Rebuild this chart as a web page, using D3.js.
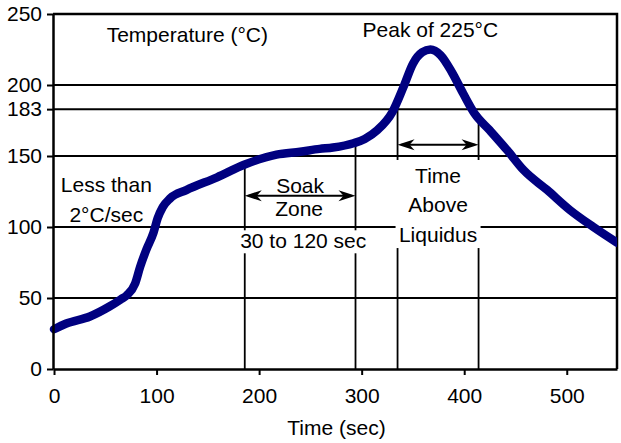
<!DOCTYPE html>
<html>
<head>
<meta charset="utf-8">
<script src="https://cdn.jsdelivr.net/npm/d3@7"></script>
<style>
  body { margin: 0; background: #fff; }
  text { font-family: "Liberation Sans", Arial, sans-serif; font-size: 21px; fill: #000; }
</style>
</head>
<body>
<svg class="graphic" width="621" height="443"></svg>
<script>
// reflow profile
const times = [0, 12, 35, 54, 65, 71, 79, 84, 90, 97, 101, 106, 113, 129, 159, 186, 217, 240, 259, 272, 292, 303, 315, 330, 341, 350, 359, 367, 377, 388, 399, 410, 425, 442, 458, 481, 503, 526, 549];
const temps = [28, 32, 37, 44, 49, 52, 60, 72, 84, 96, 106, 114, 120, 126, 135, 144, 151, 153, 155, 156, 159, 162, 168, 181, 199, 215, 223, 225, 221, 209, 194, 180, 168, 154, 140, 126, 112, 100, 89];

const yTicks = [0, 50, 100, 150, 183, 200, 250];
const gridTemps = [50, 100, 150, 183, 200];
const xTicks = [0, 100, 200, 300, 400, 500];

// annotation lines: [time, topTemp]
const soakLines = [[186, 144], [294, 159]];
const liquidusLines = [[335, 189], [414, 180]];
const soakArrow = [186, 294, 122];
const liquidusArrow = [335, 414, 158];

// text labels: [text, time, temp, boxed]
const labels = [
    ["Temperature (\u00B0C)", 130, 230, false],
    ["Peak of 225\u00B0C", 367, 233.8, false],
    ["Less than", 51, 124.6, false],
    ["2\u00B0C/sec", 51, 103.5, false],
    ["Soak", 240, 124, false],
    ["Zone", 239, 108, false],
    ["30 to 120 sec", 243, 85, true],
];
const liquidusLabel = [["Time", 374.5, 131], ["Above", 374.5, 110.6], ["Liquidus", 374.5, 89.4]];

const $svg = d3.select('.graphic');

const x = d3.scaleLinear().domain([-1, 549]).range([53, 617]);
const y = d3.scaleLinear().domain([0, 250]).range([369, 14]);

$svg.append('clipPath').attr('id', 'plot')
    .append('rect').attr('x', 0).attr('y', 0).attr('width', x(549)).attr('height', 443);

// horizontal grid
$svg.append('g')
    .selectAll('line')
    .data(gridTemps)
    .join('line')
    .attr('x1', x(-1)).attr('x2', x(549))
    .attr('y1', d => y(d)).attr('y2', d => y(d))
    .attr('stroke', '#000').attr('stroke-width', 2);

// frame top + right
$svg.append('path')
    .attr('d', `M${x(-1)},${y(250)}H${x(549)}V${y(0)}`)
    .attr('fill', 'none').attr('stroke', '#000').attr('stroke-width', 2.5);

// vertical annotation lines
$svg.append('g')
    .selectAll('line')
    .data(soakLines.concat(liquidusLines))
    .join('line')
    .attr('x1', d => x(d[0])).attr('x2', d => x(d[0]))
    .attr('y1', d => y(d[1])).attr('y2', y(0))
    .attr('stroke', '#000').attr('stroke-width', 1.8);

// arrows
function arrow(a) {
    const x0 = x(a[0]), x1 = x(a[1]), yy = y(a[2]);
    const g = $svg.append('g');
    g.append('line').attr('x1', x0 + 4).attr('x2', x1 - 4).attr('y1', yy).attr('y2', yy)
        .attr('stroke', '#000').attr('stroke-width', 2);
    g.append('path').attr('d', `M${x0},${yy}L${x0 + 17},${yy - 5.5}L${x0 + 12},${yy}L${x0 + 17},${yy + 5.5}Z`);
    g.append('path').attr('d', `M${x1},${yy}L${x1 - 17},${yy - 5.5}L${x1 - 12},${yy}L${x1 - 17},${yy + 5.5}Z`);
}
arrow(soakArrow);
arrow(liquidusArrow);

// profile curve
const line = d3.line()
    .x((d, i) => x(times[i]))
    .y(d => y(d))
    .curve(d3.curveMonotoneX);

$svg.append('path')
    .datum(temps)
    .attr('d', line)
    .attr('clip-path', 'url(#plot)')
    .attr('fill', 'none')
    .attr('stroke', '#000080')
    .attr('stroke-width', 8.5)
    .attr('stroke-linecap', 'round')
    .attr('stroke-linejoin', 'round');

// axes
$svg.append('g')
    .attr('transform', `translate(${x(-1)},0)`)
    .call(d3.axisLeft(y).tickValues(yTicks).tickSize(6).tickPadding(5).tickSizeOuter(0))
    .call(g => g.selectAll('.tick line').attr('stroke-width', 2))
    .call(g => g.select('.domain').attr('stroke-width', 2.5))
    .call(g => g.selectAll('text').attr('font-size', 21).attr('font-family', null));

$svg.append('g')
    .attr('transform', `translate(0,${y(0)})`)
    .call(d3.axisBottom(x).tickValues(xTicks).tickSize(6).tickSizeOuter(0))
    .call(g => g.selectAll('.tick line').attr('stroke-width', 2))
    .call(g => g.select('.domain').attr('stroke-width', 2.5))
    .call(g => g.selectAll('text').attr('font-size', 21).attr('font-family', null).attr('y', 19));

$svg.append('text')
    .attr('x', 336.5).attr('y', 435)
    .attr('text-anchor', 'middle')
    .text('Time (sec)');

// labels
labels.forEach(function(l) {
    const t = $svg.append('text')
        .attr('x', x(l[1])).attr('y', y(l[2]))
        .attr('text-anchor', 'middle')
        .text(l[0]);
    if (l[3]) {
        const b = t.node().getBBox();
        $svg.insert('rect', () => t.node())
            .attr('x', b.x - 2).attr('y', b.y + 1)
            .attr('width', b.width + 4).attr('height', b.height)
            .attr('fill', '#fff');
    }
});

// Time Above Liquidus block, white box behind
const liq = $svg.append('g');
const liqBox = liq.append('rect').attr('fill', '#fff');
liquidusLabel.forEach(function(l) {
    liq.append('text')
        .attr('x', x(l[1])).attr('y', y(l[2]))
        .attr('text-anchor', 'middle')
        .text(l[0]);
});
const lb = liq.node().getBBox();
liqBox.attr('x', x(liquidusLines[0][0]) - 2).attr('y', lb.y - 4)
    .attr('width', x(liquidusLines[1][0]) - x(liquidusLines[0][0]) + 4)
    .attr('height', lb.height + 6);
</script>
</body>
</html>
